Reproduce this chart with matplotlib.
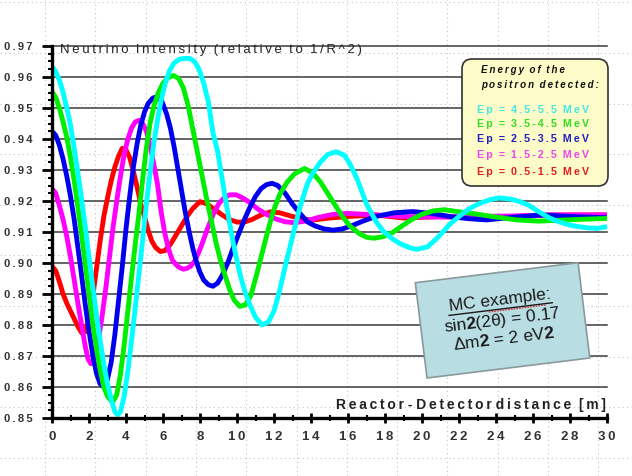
import numpy as np
import matplotlib
matplotlib.use('Agg')
import matplotlib.pyplot as plt
from matplotlib.patches import Rectangle, FancyBboxPatch
from matplotlib.ticker import MultipleLocator, FixedLocator, FixedFormatter

plt.rcParams['font.family'] = ['Liberation Sans Narrow', 'Liberation Sans', 'DejaVu Sans']
plt.rcParams['mathtext.fontset'] = 'custom'
plt.rcParams['mathtext.rm'] = 'Liberation Sans'
plt.rcParams['mathtext.bf'] = 'Liberation Sans:bold'

# distance (m) and intensity, one pair per positron energy bin
x_05 = [0, 0.2, 0.4, 0.6, 0.8, 1.0, 1.2, 1.4, 1.6, 1.8,
        2.0, 2.2, 2.4, 2.6, 2.8, 3.0, 3.2, 3.4, 3.6, 3.8,
        4.0, 4.2, 4.4, 4.6, 4.8, 5.0, 5.2, 5.4, 5.6, 5.85,
        6.1, 6.4, 6.7, 7.0, 7.3, 7.6, 8.0, 8.4, 8.8, 9.2,
        9.6, 10.0, 10.4, 10.8, 11.3, 11.8, 12.3, 13.0, 14.0, 15.0,
        16.0, 17.5, 19.0, 21.0, 23.0, 25.0, 27.0, 30.0]
y_05 = [0.899, 0.8975, 0.894, 0.890, 0.887, 0.8845, 0.882, 0.8795, 0.8775, 0.8778,
        0.882, 0.889, 0.898, 0.907, 0.915, 0.921, 0.9265, 0.931, 0.9345, 0.937,
        0.9365, 0.934, 0.9295, 0.9245, 0.919, 0.915, 0.9105, 0.907, 0.905, 0.9037,
        0.904, 0.906, 0.909, 0.912, 0.915, 0.9175, 0.9198, 0.919, 0.9172, 0.9155,
        0.914, 0.9132, 0.9132, 0.914, 0.9155, 0.9165, 0.9162, 0.915, 0.9138, 0.9145,
        0.915, 0.9155, 0.9145, 0.915, 0.9145, 0.915, 0.9155, 0.9155]

x_15 = [0, 0.2, 0.4, 0.6, 0.8, 1.0, 1.2, 1.4, 1.6, 1.8,
        1.95, 2.1, 2.3, 2.5, 2.7, 2.9, 3.1, 3.3, 3.5, 3.7,
        3.9, 4.1, 4.3, 4.5, 4.7, 4.9, 5.1, 5.3, 5.5, 5.7,
        5.9, 6.1, 6.3, 6.5, 6.7, 6.9, 7.1, 7.3, 7.5, 7.7,
        7.9, 8.1, 8.4, 8.7, 9.0, 9.3, 9.6, 9.95, 10.3, 10.7,
        11.1, 11.6, 12.1, 12.6, 13.1, 13.7, 14.4, 15.2, 16.0, 17.5,
        19.0, 21.0, 23.0, 25.0, 27.0, 30.0]
y_15 = [0.924, 0.9225, 0.9185, 0.914, 0.9085, 0.902, 0.8945, 0.887, 0.880, 0.873,
        0.869, 0.8675, 0.8695, 0.875, 0.8825, 0.8915, 0.9015, 0.9115, 0.920, 0.928,
        0.935, 0.940, 0.9435, 0.9455, 0.946, 0.945, 0.9425, 0.938, 0.932, 0.9255,
        0.9165, 0.9095, 0.9045, 0.901, 0.8995, 0.8985, 0.898, 0.8983, 0.899, 0.9005,
        0.903, 0.906, 0.911, 0.9155, 0.919, 0.921, 0.922, 0.922, 0.921, 0.9195,
        0.9175, 0.9157, 0.9142, 0.9133, 0.913, 0.9135, 0.9147, 0.9157, 0.916, 0.9155,
        0.915, 0.9148, 0.915, 0.9152, 0.9155, 0.9155]

x_25 = [0, 0.2, 0.4, 0.6, 0.8, 1.0, 1.2, 1.4, 1.6, 1.8,
        2.0, 2.2, 2.4, 2.6, 2.8, 3.0, 3.2, 3.4, 3.6, 3.8,
        4.0, 4.2, 4.4, 4.6, 4.8, 5.0, 5.2, 5.45, 5.7, 5.95,
        6.2, 6.4, 6.6, 6.8, 7.0, 7.2, 7.4, 7.6, 7.8, 8.0,
        8.2, 8.45, 8.7, 8.95, 9.2, 9.5, 9.8, 10.1, 10.4, 10.7,
        11.0, 11.3, 11.6, 11.9, 12.2, 12.6, 13.0, 13.4, 13.8, 14.2,
        14.7, 15.2, 15.7, 16.2, 16.8, 17.5, 18.5, 19.5, 20.5, 21.5,
        22.5, 23.5, 25.0, 26.5, 28.0, 30.0]
y_25 = [0.9425, 0.9412, 0.938, 0.9335, 0.928, 0.9215, 0.914, 0.905, 0.896, 0.8865,
        0.878, 0.8705, 0.8645, 0.861, 0.860, 0.8625, 0.868, 0.877, 0.888, 0.899,
        0.911, 0.9215, 0.931, 0.9385, 0.9445, 0.9487, 0.9515, 0.9532, 0.9537, 0.952,
        0.948, 0.9435, 0.9375, 0.9305, 0.9235, 0.9165, 0.9105, 0.905, 0.9005, 0.897,
        0.8945, 0.893, 0.8925, 0.8935, 0.896, 0.900, 0.905, 0.9095, 0.914, 0.918,
        0.9215, 0.924, 0.9253, 0.9257, 0.925, 0.9225, 0.919, 0.916, 0.9133, 0.912,
        0.911, 0.9106, 0.911, 0.912, 0.9135, 0.915, 0.9162, 0.9166, 0.916, 0.915,
        0.9143, 0.9139, 0.9148, 0.9155, 0.915, 0.9146]

x_35 = [0, 0.2, 0.4, 0.6, 0.8, 1.0, 1.2, 1.4, 1.6, 1.8,
        2.0, 2.2, 2.4, 2.6, 2.8, 3.0, 3.27, 3.5, 3.7, 3.9,
        4.1, 4.3, 4.5, 4.7, 4.9, 5.1, 5.3, 5.5, 5.75, 6.0,
        6.25, 6.55, 6.85, 7.1, 7.35, 7.6, 7.85, 8.1, 8.35, 8.6,
        8.85, 9.1, 9.35, 9.6, 9.85, 10.15, 10.45, 10.75, 11.05, 11.35,
        11.65, 11.95, 12.3, 12.7, 13.1, 13.65, 14.1, 14.5, 14.9, 15.3,
        15.7, 16.1, 16.6, 17.0, 17.4, 17.9, 18.4, 19.0, 19.5, 20.0,
        20.6, 21.2, 22.0, 22.7, 23.8, 25.1, 26.3, 27.8, 30.0]
y_35 = [0.9553, 0.9535, 0.950, 0.9455, 0.9405, 0.934, 0.9265, 0.918, 0.909, 0.8995,
        0.890, 0.8805, 0.8725, 0.8655, 0.860, 0.857, 0.855, 0.8575, 0.864, 0.8735,
        0.8845, 0.8955, 0.906, 0.916, 0.927, 0.937, 0.945, 0.9505, 0.955, 0.958,
        0.9597, 0.9605, 0.9595, 0.9565, 0.951, 0.9435, 0.936, 0.9285, 0.921, 0.914,
        0.907, 0.901, 0.896, 0.8915, 0.888, 0.886, 0.8865, 0.8895, 0.896, 0.903,
        0.910, 0.9165, 0.922, 0.926, 0.9287, 0.9305, 0.929, 0.9262, 0.9225, 0.9187,
        0.915, 0.912, 0.9095, 0.9083, 0.908, 0.9085, 0.9098, 0.9123, 0.9142, 0.9157,
        0.9168, 0.9172, 0.9165, 0.916, 0.915, 0.9139, 0.9135, 0.9139, 0.9144]

x_45 = [0, 0.2, 0.4, 0.6, 0.8, 1.0, 1.2, 1.4, 1.6, 1.8,
        2.0, 2.2, 2.4, 2.6, 2.8, 3.0, 3.2, 3.4, 3.55, 3.7,
        3.9, 4.1, 4.3, 4.5, 4.7, 4.9, 5.1, 5.3, 5.5, 5.7,
        5.9, 6.1, 6.35, 6.6, 6.9, 7.2, 7.45, 7.7, 7.95, 8.2,
        8.45, 8.7, 8.95, 9.2, 9.45, 9.7, 9.95, 10.2, 10.45, 10.7,
        11.0, 11.35, 11.7, 12.0, 12.3, 12.65, 13.0, 13.4, 13.8, 14.1,
        14.5, 14.9, 15.35, 15.8, 16.1, 16.5, 17.0, 17.5, 17.9, 18.4,
        18.8, 19.3, 19.7, 20.3, 20.9, 21.5, 22.0, 22.6, 23.1, 23.7,
        24.2, 24.8, 25.3, 25.8, 26.3, 26.9, 27.4, 28.0, 28.5, 29.0,
        29.5, 30.0]
y_45 = [0.9633, 0.9618, 0.959, 0.955, 0.950, 0.9445, 0.937, 0.929, 0.9205, 0.9115,
        0.902, 0.8925, 0.8835, 0.875, 0.8675, 0.861, 0.856, 0.852, 0.851, 0.852,
        0.857, 0.865, 0.875, 0.8855, 0.8965, 0.9075, 0.919, 0.929, 0.9385, 0.946,
        0.9525, 0.9575, 0.962, 0.9645, 0.9658, 0.966, 0.966, 0.965, 0.9625, 0.958,
        0.952, 0.942, 0.936, 0.927, 0.918, 0.9095, 0.902, 0.8955, 0.8903, 0.8865,
        0.8825, 0.880, 0.881, 0.8845, 0.891, 0.900, 0.9085, 0.918, 0.9255, 0.929,
        0.9325, 0.935, 0.9359, 0.9348, 0.932, 0.927, 0.919, 0.9135, 0.9103, 0.9078,
        0.9063, 0.905, 0.9044, 0.9052, 0.9085, 0.9125, 0.915, 0.9177, 0.9192, 0.9205,
        0.921, 0.9206, 0.9198, 0.9185, 0.9166, 0.9145, 0.9133, 0.9122, 0.9117, 0.9113,
        0.9112, 0.9117]

bins = ['0.5-1.5', '1.5-2.5', '2.5-3.5', '3.5-4.5', '4.5-5.5']
series = [(x_05, y_05), (x_15, y_15), (x_25, y_25), (x_35, y_35), (x_45, y_45)]
line_colors = ['#ff0000', '#ff00ff', '#0000ee', '#00ee00', '#00ffff']
text_colors = ['#e02020', '#ee44ee', '#2020c0', '#33dd22', '#44e6e6']

y_ticks = [0.85, 0.86, 0.87, 0.88, 0.89, 0.90, 0.91, 0.92, 0.93, 0.94, 0.95, 0.96, 0.97]
x_ticks = list(range(0, 31, 2))


def spaced(s):
    return '\u2009'.join(s)


W, H = 632, 476
fig = plt.figure(figsize=(W / 100, H / 100), dpi=100)

# slide background with dotted guides
bg = fig.add_axes([0, 0, 1, 1], zorder=-1)
bg.set_xlim(0, W)
bg.set_ylim(H, 0)
bg.axis('off')
for gx in np.arange(45, W, 50.3):
    bg.axvline(gx, color='#c4c4c4', lw=0.8, ls=(0, (1, 3)))
for gy in np.arange(2.4, H, 50.6):
    bg.axhline(gy, color='#c4c4c4', lw=0.8, ls=(0, (1, 3)))

ax = fig.add_axes([52 / W, (H - 418) / H, 555 / W, 372 / H])
ax.patch.set_alpha(0)
for i in range(5):
    xs, ys = series[i]
    ax.plot(xs, ys, color=line_colors[i], lw=3.5, solid_capstyle='round', solid_joinstyle='round', zorder=3)

ax.set_xlim(0, 30)
ax.set_ylim(0.85, 0.97)
for sp in ['top', 'right']:
    ax.spines[sp].set_visible(False)
ax.spines['left'].set_linewidth(2.4)
ax.spines['bottom'].set_linewidth(2.4)
ax.spines['left'].set_zorder(4)
ax.spines['bottom'].set_zorder(4)

for yv in y_ticks[1:]:
    ax.axhline(yv, color='#3a3a3a', lw=1.1, zorder=1, clip_on=False)

ax.yaxis.set_major_locator(FixedLocator(y_ticks))
ax.yaxis.set_major_formatter(FixedFormatter([spaced('%.2f' % v) for v in y_ticks]))
ax.yaxis.set_minor_locator(MultipleLocator(0.0025))
ax.xaxis.set_major_locator(FixedLocator(x_ticks))
ax.xaxis.set_major_formatter(FixedFormatter([spaced(str(v)) for v in x_ticks]))
ax.xaxis.set_minor_locator(MultipleLocator(1))
ax.tick_params(axis='y', which='major', length=7, width=2, direction='out', pad=7,
               labelsize=8, labelcolor='#333333')
ax.tick_params(axis='y', which='minor', length=3, width=1.5, direction='out')
ax.tick_params(axis='x', which='major', length=7, width=2, direction='inout', pad=6,
               labelsize=9.5, labelcolor='#333333')
ax.tick_params(axis='x', which='minor', length=4, width=1.5, direction='inout')
for lab in ax.get_xticklabels() + ax.get_yticklabels():
    lab.set_fontweight('bold')

ax.text(0.45, 0.9688, spaced('Neutrino') + '  ' + spaced('Intensity') + '  ' + spaced('(relative') + '  '
        + spaced('to') + '  ' + spaced('1/R^2)'), fontsize=9.5, color='#222222', va='center', ha='left',
        zorder=5)
ax.text(29.95, 0.8542, spaced('Reactor') + ' ' + spaced('-') + ' ' + spaced('Detector') + ' '
        + spaced('distance') + '  ' + spaced('[m]'), fontsize=10, color='#222222', va='center',
        ha='right', fontweight='bold', zorder=5)

# overlay for the two boxes (pixel coords, y up)
ov = fig.add_axes([0, 0, 1, 1], zorder=5)
ov.set_xlim(0, W)
ov.set_ylim(0, H)
ov.axis('off')

ov.add_patch(FancyBboxPatch((468, H - 180), 134, 115, boxstyle='round,pad=6,rounding_size=10',
                            fc='#fdfcc8', ec='#333333', lw=1.2))
ov.text(481, H - 70, spaced('Energy') + '  ' + spaced('of') + '  ' + spaced('the'), fontsize=7,
        fontweight='bold', style='italic', color='#111111', va='center')
ov.text(481, H - 85, spaced('positron') + '  ' + spaced('detected:'), fontsize=7,
        fontweight='bold', style='italic', color='#111111', va='center')
rows_y = [172, 155, 139, 124, 110]
for i in range(5):
    ov.text(477, H - rows_y[i], spaced('Ep') + '  =  ' + spaced(bins[i]) + '  ' + spaced('MeV'),
            fontsize=7.7, fontweight='bold', color=text_colors[i], va='center')

ang = 7
ov.add_patch(Rectangle((427, H - 378), 164, 96, angle=ang, fc='#b8dde3', ec='#8a9a9c', lw=1.2))
cx, cy = 502, H - 320
c, s = np.cos(np.radians(ang)), np.sin(np.radians(ang))
mc_lines = ['MC example:', r'sin$\mathbf{2}$(2θ) = 0.17', r'Δm$\mathbf{2}$ = 2 eV$\mathbf{2}$']
offs = [20, 0, -19]
for txt, o in zip(mc_lines, offs):
    ov.text(cx - o * s, cy + o * c, txt, fontsize=12.5, family='Liberation Sans', color='#1a1a1a',
            rotation=ang, rotation_mode='anchor', ha='center', va='center')
# underline of the heading
ux, uy = cx - 11 * s, cy + 11 * c
ov.plot([ux - 52 * c, ux + 52 * c], [uy - 52 * s, uy + 52 * s], color='#1a1a1a', lw=1)
ov.plot([ux - 12 * c, ux + 46 * c], [uy - 12 * s - 1.5, uy + 46 * s - 1.5], color='#dd2222', lw=0.8,
        ls=(0, (1.5, 1)))

fig.savefig('out.png', dpi=100)
